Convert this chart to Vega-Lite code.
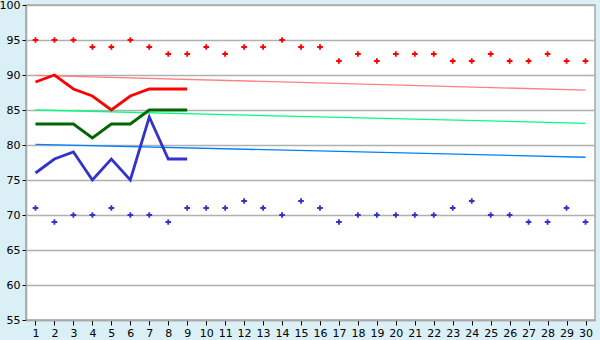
{
  "$schema": "https://vega.github.io/schema/vega-lite/v6.json",
  "autosize": {"type": "none"},
  "width": 569,
  "height": 315,
  "padding": {"left": 26, "top": 5, "right": 5, "bottom": 20},
  "background": "#daeff6",
  "config": {
    "view": {"fill": "#ffffff", "stroke": "#a8a8a8", "strokeWidth": 1.5},
    "axis": {
      "labelFont": "DejaVu Sans",
      "labelFontSize": 11,
      "labelColor": "#000000",
      "tickColor": "#000000",
      "domainColor": "#a8a8a8",
      "domainWidth": 1.5,
      "title": null
    }
  },
  "data": {
    "values": [
      {"day": 1, "s": "hi", "v": 95}, {"day": 2, "s": "hi", "v": 95}, {"day": 3, "s": "hi", "v": 95},
      {"day": 4, "s": "hi", "v": 94}, {"day": 5, "s": "hi", "v": 94}, {"day": 6, "s": "hi", "v": 95},
      {"day": 7, "s": "hi", "v": 94}, {"day": 8, "s": "hi", "v": 93}, {"day": 9, "s": "hi", "v": 93},
      {"day": 10, "s": "hi", "v": 94}, {"day": 11, "s": "hi", "v": 93}, {"day": 12, "s": "hi", "v": 94},
      {"day": 13, "s": "hi", "v": 94}, {"day": 14, "s": "hi", "v": 95}, {"day": 15, "s": "hi", "v": 94},
      {"day": 16, "s": "hi", "v": 94}, {"day": 17, "s": "hi", "v": 92}, {"day": 18, "s": "hi", "v": 93},
      {"day": 19, "s": "hi", "v": 92}, {"day": 20, "s": "hi", "v": 93}, {"day": 21, "s": "hi", "v": 93},
      {"day": 22, "s": "hi", "v": 93}, {"day": 23, "s": "hi", "v": 92}, {"day": 24, "s": "hi", "v": 92},
      {"day": 25, "s": "hi", "v": 93}, {"day": 26, "s": "hi", "v": 92}, {"day": 27, "s": "hi", "v": 92},
      {"day": 28, "s": "hi", "v": 93}, {"day": 29, "s": "hi", "v": 92}, {"day": 30, "s": "hi", "v": 92},
      {"day": 1, "s": "lo", "v": 71}, {"day": 2, "s": "lo", "v": 69}, {"day": 3, "s": "lo", "v": 70},
      {"day": 4, "s": "lo", "v": 70}, {"day": 5, "s": "lo", "v": 71}, {"day": 6, "s": "lo", "v": 70},
      {"day": 7, "s": "lo", "v": 70}, {"day": 8, "s": "lo", "v": 69}, {"day": 9, "s": "lo", "v": 71},
      {"day": 10, "s": "lo", "v": 71}, {"day": 11, "s": "lo", "v": 71}, {"day": 12, "s": "lo", "v": 72},
      {"day": 13, "s": "lo", "v": 71}, {"day": 14, "s": "lo", "v": 70}, {"day": 15, "s": "lo", "v": 72},
      {"day": 16, "s": "lo", "v": 71}, {"day": 17, "s": "lo", "v": 69}, {"day": 18, "s": "lo", "v": 70},
      {"day": 19, "s": "lo", "v": 70}, {"day": 20, "s": "lo", "v": 70}, {"day": 21, "s": "lo", "v": 70},
      {"day": 22, "s": "lo", "v": 70}, {"day": 23, "s": "lo", "v": 71}, {"day": 24, "s": "lo", "v": 72},
      {"day": 25, "s": "lo", "v": 70}, {"day": 26, "s": "lo", "v": 70}, {"day": 27, "s": "lo", "v": 69},
      {"day": 28, "s": "lo", "v": 69}, {"day": 29, "s": "lo", "v": 71}, {"day": 30, "s": "lo", "v": 69},
      {"day": 1, "s": "r", "v": 89}, {"day": 2, "s": "r", "v": 90}, {"day": 3, "s": "r", "v": 88},
      {"day": 4, "s": "r", "v": 87}, {"day": 5, "s": "r", "v": 85}, {"day": 6, "s": "r", "v": 87},
      {"day": 7, "s": "r", "v": 88}, {"day": 8, "s": "r", "v": 88}, {"day": 9, "s": "r", "v": 88},
      {"day": 1, "s": "g", "v": 83}, {"day": 2, "s": "g", "v": 83}, {"day": 3, "s": "g", "v": 83},
      {"day": 4, "s": "g", "v": 81}, {"day": 5, "s": "g", "v": 83}, {"day": 6, "s": "g", "v": 83},
      {"day": 7, "s": "g", "v": 85}, {"day": 8, "s": "g", "v": 85}, {"day": 9, "s": "g", "v": 85},
      {"day": 1, "s": "b", "v": 76}, {"day": 2, "s": "b", "v": 78}, {"day": 3, "s": "b", "v": 79},
      {"day": 4, "s": "b", "v": 75}, {"day": 5, "s": "b", "v": 78}, {"day": 6, "s": "b", "v": 75},
      {"day": 7, "s": "b", "v": 84}, {"day": 8, "s": "b", "v": 78}, {"day": 9, "s": "b", "v": 78},
      {"day": 1, "s": "tr", "v": 89.95}, {"day": 30, "s": "tr", "v": 87.85},
      {"day": 1, "s": "tg", "v": 85.0}, {"day": 30, "s": "tg", "v": 83.1},
      {"day": 1, "s": "tb", "v": 80.1}, {"day": 30, "s": "tb", "v": 78.25}
    ]
  },
  "encoding": {
    "x": {
      "field": "day",
      "type": "quantitative",
      "scale": {"domain": [0.5, 30.5], "nice": false, "zero": false},
      "axis": {
        "values": [1,2,3,4,5,6,7,8,9,10,11,12,13,14,15,16,17,18,19,20,21,22,23,24,25,26,27,28,29,30],
        "grid": false,
        "tickSize": 5,
        "labelPadding": 2,
        "labelFlush": false,
        "labelOverlap": false
      }
    },
    "y": {
      "field": "v",
      "type": "quantitative",
      "scale": {"domain": [55, 100], "nice": false, "zero": false},
      "axis": {
        "values": [55, 60, 65, 70, 75, 80, 85, 90, 95, 100],
        "grid": true,
        "gridColor": "#b0b0b0",
        "gridWidth": 1.5,
        "tickSize": 4,
        "labelPadding": 2,
        "labelFlush": false
      }
    },
    "color": {
      "field": "s",
      "type": "nominal",
      "legend": null,
      "scale": {
        "domain": ["hi", "lo", "r", "g", "b", "tr", "tg", "tb"],
        "range": ["#ff0000", "#3333cc", "#ff0000", "#006600", "#3333cc", "#ff8080", "#00ff80", "#0080ff"]
      }
    }
  },
  "layer": [
    {
      "transform": [{"filter": {"field": "s", "oneOf": ["tr", "tg", "tb"]}}],
      "mark": {"type": "line", "strokeWidth": 1.3}
    },
    {
      "transform": [{"filter": {"field": "s", "oneOf": ["r", "g", "b"]}}],
      "mark": {"type": "line", "strokeWidth": 2.8}
    },
    {
      "transform": [{"filter": {"field": "s", "oneOf": ["hi", "lo"]}}],
      "mark": {"type": "point", "shape": "M-1,-0.33H-0.33V-1H0.33V-0.33H1V0.33H0.33V1H-0.33V0.33H-1Z", "filled": true, "size": 32, "opacity": 1}
    }
  ]
}
